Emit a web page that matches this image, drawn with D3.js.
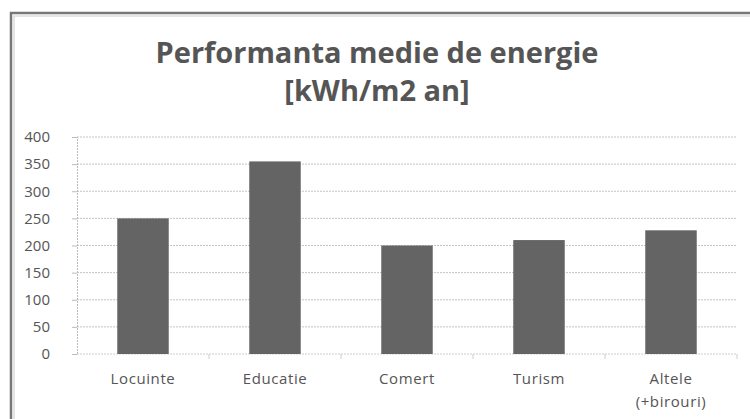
<!DOCTYPE html>
<html>
<head>
<meta charset="utf-8">
<script src="https://cdn.jsdelivr.net/npm/d3@7"></script>
<style>
  body { margin: 0; background: #fff; }
  svg { display: block; }
  text { font-family: "Open Sans", "DejaVu Sans", sans-serif; fill: #555; }
</style>
</head>
<body>
<div id="chart"></div>
<script>
var categories = ["Locuinte", "Educatie", "Comert", "Turism", "Altele|(+birouri)"];
var values = [250, 355, 200, 210, 228];
var yTicks = [0, 50, 100, 150, 200, 250, 300, 350, 400];
var titleLines = ["Performanta medie de energie", "[kWh/m2 an]"];

var width = 750, height = 419;
var plot = {left: 77, right: 737, top: 137, bottom: 354};

var svg = d3.select("#chart").append("svg")
  .attr("width", width)
  .attr("height", height);

// frame
svg.append("rect").attr("x", 11).attr("y", 13).attr("width", 760).attr("height", 420)
  .attr("fill", "none").attr("stroke", "#777").attr("stroke-width", 2.5);
svg.append("rect").attr("x", 14).attr("y", 16).attr("width", 760).attr("height", 420)
  .attr("fill", "none").attr("stroke", "#ccc").attr("stroke-width", 1);

// title
svg.selectAll(".title").data(titleLines).enter()
  .append("text").attr("class", "title")
  .attr("x", 377).attr("y", function(d, i){ return 63 + i * 38; })
  .attr("text-anchor", "middle")
  .style("font-size", "29px").style("font-weight", "bold")
  .text(function(d){ return d; });

var x = d3.scaleBand().domain(categories).range([plot.left, plot.right])
  .paddingInner(0.61).paddingOuter(0.305);
var y = d3.scaleLinear().domain([0, 400]).range([plot.bottom, plot.top]);

// gridlines
svg.append("g").selectAll("line").data(yTicks.slice(1)).enter()
  .append("line")
  .attr("x1", plot.left).attr("x2", plot.right)
  .attr("y1", function(d){ return y(d); }).attr("y2", function(d){ return y(d); })
  .attr("stroke", "#c4c4c4").attr("stroke-width", 1).attr("stroke-dasharray", "2,1");

// y axis
var yAxis = svg.append("g").attr("transform", "translate(" + plot.left + ",0)")
  .call(d3.axisLeft(y).tickValues(yTicks).tickSize(5).tickPadding(22));
yAxis.select(".domain").attr("stroke", "#bbb").attr("stroke-dasharray", "2,1");
yAxis.selectAll(".tick line").attr("stroke", "#bbb");
yAxis.selectAll(".tick text").style("font-size", "15px").attr("fill", "#555")
  .style("font-family", "'Open Sans', sans-serif");

// x axis
var xAxis = svg.append("g").attr("transform", "translate(0," + plot.bottom + ")");
xAxis.append("line").attr("x1", plot.left).attr("x2", plot.right)
  .attr("stroke", "#ccc").attr("stroke-dasharray", "2,1");
xAxis.selectAll(".sep").data(categories).enter()
  .append("line").attr("class", "sep")
  .attr("x1", function(d){ return x(d) - x.step() * x.paddingInner() / 2 + x.step(); })
  .attr("x2", function(d){ return x(d) - x.step() * x.paddingInner() / 2 + x.step(); })
  .attr("y1", 0).attr("y2", 5).attr("stroke", "#ccc");

var labels = xAxis.selectAll(".cat").data(categories).enter()
  .append("text").attr("class", "cat")
  .attr("text-anchor", "middle")
  .attr("x", function(d){ return x(d) + x.bandwidth() / 2; })
  .attr("y", 30)
  .style("font-size", "15px").style("letter-spacing", "0.6px");
labels.selectAll("tspan").data(function(d){ return d.split("|"); }).enter()
  .append("tspan")
  .attr("x", function(){ var p = d3.select(this.parentNode).datum(); return x(p) + x.bandwidth() / 2; })
  .attr("dy", function(d, i){ return i === 0 ? 0 : 23; })
  .text(function(d){ return d; });

// bars
svg.append("g").selectAll("rect").data(values).enter()
  .append("rect")
  .attr("x", function(d, i){ return x(categories[i]); })
  .attr("y", function(d){ return y(d); })
  .attr("width", x.bandwidth())
  .attr("height", function(d){ return plot.bottom - y(d); })
  .attr("fill", "#646464");
</script>
</body>
</html>
